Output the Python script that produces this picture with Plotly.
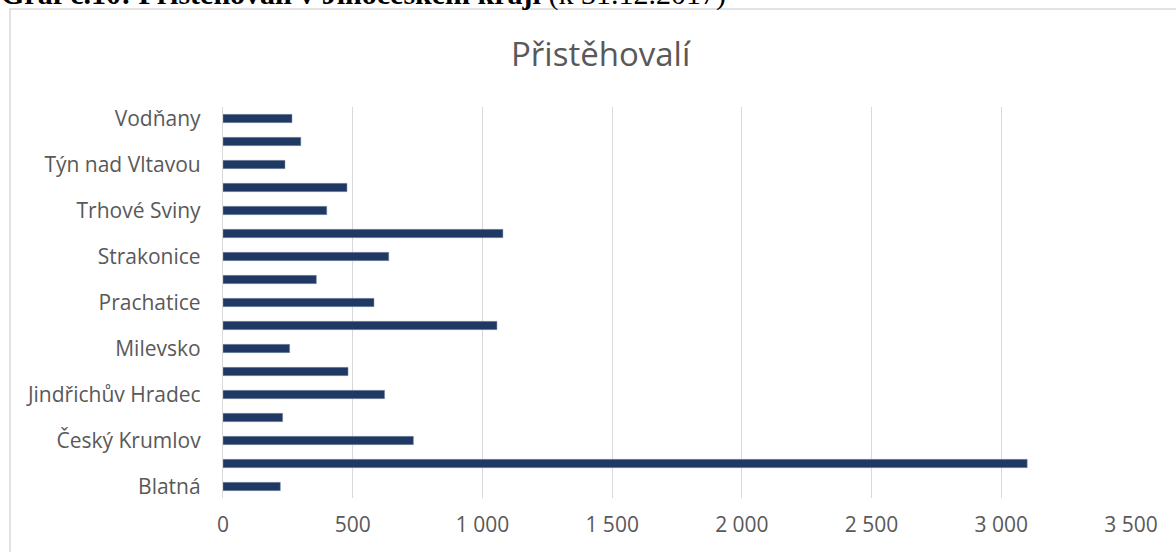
import plotly.graph_objects as go

categories = ["Blatná", "České Budějovice", "Český Krumlov", "Dačice", "Jindřichův Hradec",
              "Kaplice", "Milevsko", "Písek", "Prachatice", "Soběslav", "Strakonice", "Tábor",
              "Trhové Sviny", "Třeboň", "Týn nad Vltavou", "Vimperk", "Vodňany"]
values = [221, 3100, 734, 230, 623, 482, 257, 1056, 582, 360, 639, 1079, 400, 478, 239, 300, 266]
shown_labels = categories[::2]
x_ticks = [0, 500, 1000, 1500, 2000, 2500, 3000, 3500]

W, H = 1176, 552
L, R, T, B = 223, 45, 107, 54
pw, ph = W - L - R, H - T - B

def px(x):
    return (x - L) / pw

def py(y):
    return (H - B - y) / ph

fig = go.Figure(go.Bar(
    x=values, y=categories, orientation="h",
    marker=dict(color="#203864", line=dict(color="#8497b0", width=0.5)),
))

FONT = "Open Sans"
GRAY = "#595959"

fig.update_layout(
    width=W, height=H,
    margin=dict(l=L, r=R, t=T, b=B, pad=0),
    paper_bgcolor="white", plot_bgcolor="white",
    bargap=0.64,
    separators=", ",
    showlegend=False,
    font=dict(family=FONT, color=GRAY),
    xaxis=dict(range=[0, 3500], tickvals=x_ticks, tickformat=",d",
               showgrid=True, gridcolor="#d9d9d9", gridwidth=1.3,
               zeroline=False, showline=False, ticks="",
               tickfont=dict(family=FONT, size=21, color=GRAY),
               ticklabelstandoff=12, fixedrange=True),
    yaxis=dict(type="category", categoryorder="array", categoryarray=categories,
               tickvals=shown_labels, ticktext=shown_labels,
               showgrid=False, zeroline=False, showline=True, linecolor="#d9d9d9", linewidth=1.3,
               ticks="", tickfont=dict(family=FONT, size=21, color=GRAY),
               ticklabelstandoff=17, range=[-0.5, len(categories) - 0.5], fixedrange=True),
    shapes=[dict(type="rect", xref="paper", yref="paper",
                 x0=px(10), x1=px(1200), y0=py(570), y1=py(9),
                 line=dict(color="#d9d9d9", width=1.5), fillcolor="rgba(0,0,0,0)", layer="below")],
    annotations=[
        dict(text="Přistěhovalí", xref="paper", yref="paper", x=px(601), y=py(53),
             xanchor="center", yanchor="middle", showarrow=False,
             font=dict(family=FONT, size=33, color=GRAY)),
        dict(text="<b>Graf č.10: Přistěhovalí v Jihočeském kraji</b> (k 31.12.2017)",
             xref="paper", yref="paper", x=px(-1), y=py(13),
             xanchor="left", yanchor="bottom", showarrow=False,
             font=dict(family="Liberation Serif", size=30, color="black")),
    ],
)

fig.write_html("out.html", config={"displayModeBar": False},
               post_script="document.body.style.margin='0';document.body.style.overflow='hidden';")
